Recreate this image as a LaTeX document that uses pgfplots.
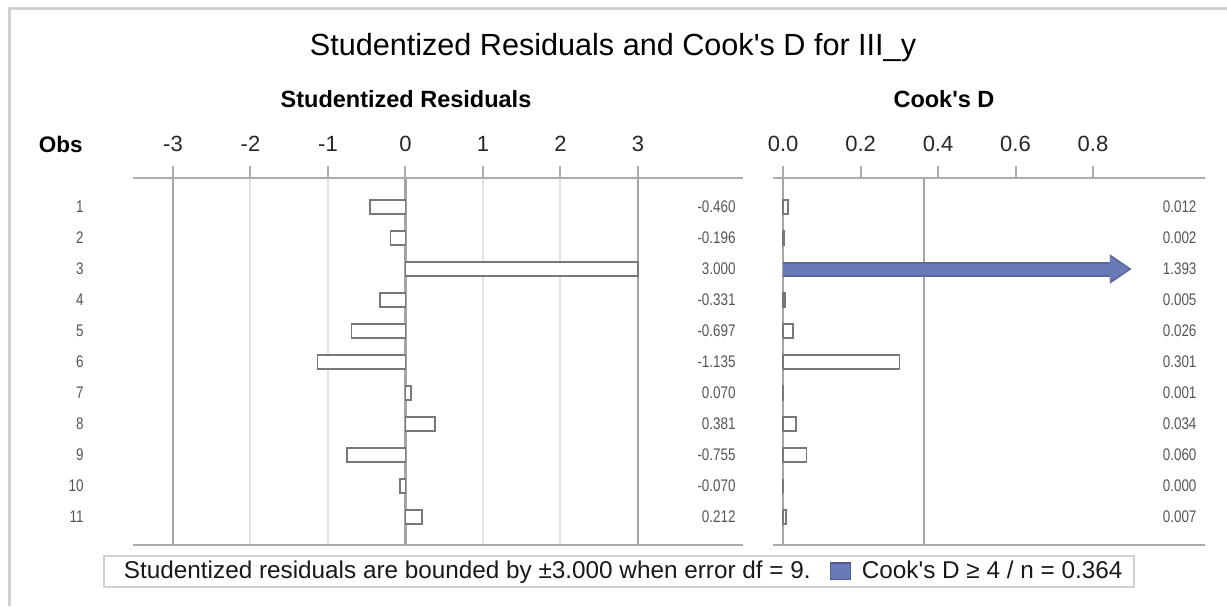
\documentclass[border=0pt]{standalone}
\usepackage{fontspec}
\setmainfont{Liberation Sans}[Ligatures=TeXOff]
\newfontfamily\narrowfont[FakeStretch=0.8]{Liberation Sans}
\usepackage{pgfplots}
\pgfplotsset{compat=1.18}
\usetikzlibrary{arrows.meta}
\definecolor{framegray}{RGB}{208,208,208}
\definecolor{axisgray}{RGB}{172,172,172}
\definecolor{gridgray}{RGB}{226,226,226}
\definecolor{refgray}{RGB}{165,165,165}
\definecolor{barline}{RGB}{120,120,120}
\definecolor{cookblue}{RGB}{106,122,184}
\definecolor{labgray}{RGB}{85,85,85}

\pgfplotsset{
  panel/.style={
    scale only axis, height=183.5pt, anchor=south west,
    y dir=reverse, ymin=0.065, ymax=11.9,
    axis line style={draw=none},
    xtick pos=right, xticklabel pos=right,
    tick align=outside, major tick length=6pt,
    xtick style={draw=axisgray, line width=1pt},
    xticklabel style={font=\fontsize{11}{13}\selectfont, text=black!85, anchor=base, yshift=7.5pt},
    ytick={1,...,11}, ytick style={draw=none}, ytick pos=left, yticklabel pos=left,
    clip=false,
  },
  vallab/.style={only marks, mark=none, forget plot, point meta=explicit symbolic, nodes near coords,
    every node near coord/.append style={anchor=east, inner sep=0pt, font=\narrowfont\fontsize{8.4}{10}\selectfont, text=labgray}},
  resbar/.style={xbar, bar width=0.45, fill=white, draw=barline, line width=0.8pt, forget plot},
}

\begin{document}
\begin{tikzpicture}
\useasboundingbox (0,0) rectangle (613.5pt,-303pt);
\draw[framegray, line width=1.5pt] (4.5pt,-303pt) -- (4.5pt,-4pt) -- (613.5pt,-4pt);
\node[anchor=base, font=\fontsize{15.3}{18}\selectfont] at (306.5pt,-27.5pt) {Studentized Residuals and Cook's D for III\_y};
\node[anchor=base, font=\bfseries\fontsize{11.75}{14}\selectfont] at (203pt,-53.5pt) {Studentized Residuals};
\node[anchor=base, font=\bfseries\fontsize{11.75}{14}\selectfont] at (472pt,-53.5pt) {Cook's D};
\node[anchor=base east, font=\bfseries\fontsize{11.25}{14}\selectfont, inner sep=0pt] at (41.5pt,-76pt) {Obs};

% ---------- Studentized residuals ----------
\begin{axis}[panel,
  at={(66.5pt,-272.5pt)}, width=305pt,
  xmin=-3.516, xmax=4.355,
  xtick={-3,-2,-1,0,1,2,3}, xticklabels={-3,-2,-1,0,1,2,3},
  xmajorgrids, grid style={gridgray, line width=1pt},
  extra x ticks={-3,0,3}, extra x tick labels={},
  extra x tick style={major tick length=0pt, grid=major, major grid style={refgray, line width=1.2pt}},
  yticklabels={1,2,3,4,5,6,7,8,9,10,11},
  yticklabel style={font=\narrowfont\fontsize{8.4}{10}\selectfont, text=labgray, anchor=east, xshift=-15.2pt},
]
\draw[axisgray, line width=1.2pt] (rel axis cs:0,0) -- (rel axis cs:1,0);
\draw[axisgray, line width=1.2pt] (rel axis cs:0,1) -- (rel axis cs:1,1);
\addplot[resbar] coordinates {
  (-0.460,1) (-0.196,2) (3.000,3) (-0.331,4) (-0.697,5) (-1.135,6)
  (0.070,7) (0.381,8) (-0.755,9) (-0.070,10) (0.212,11)};
\addplot[vallab] table[meta=lab] {
x y lab
4.265 1 -0.460
4.265 2 -0.196
4.265 3 3.000
4.265 4 -0.331
4.265 5 -0.697
4.265 6 -1.135
4.265 7 0.070
4.265 8 0.381
4.265 9 -0.755
4.265 10 -0.070
4.265 11 0.212
};
\end{axis}

% ---------- Cook's D ----------
\begin{axis}[panel,
  at={(386.5pt,-272.5pt)}, width=216pt,
  xmin=-0.026, xmax=1.089,
  xtick={0,0.2,0.4,0.6,0.8}, xticklabels={0.0,0.2,0.4,0.6,0.8},
  extra x ticks={0,0.364}, extra x tick labels={},
  extra x tick style={major tick length=0pt, grid=major, major grid style={refgray, line width=1.2pt}},
  yticklabels={},
  legend columns=2, legend cell align=left,
  legend style={at={(-1.551,-0.0272)}, anchor=north west, draw=framegray, line width=1pt,
    fill=white, font=\fontsize{12.15}{14}\selectfont, text=black!90,
    inner xsep=4pt, inner ysep=0.5pt,
    /tikz/every even column/.append style={column sep=7.5pt}},
]
\draw[axisgray, line width=1.2pt] (rel axis cs:0,0) -- (rel axis cs:1,0);
\draw[axisgray, line width=1.2pt] (rel axis cs:0,1) -- (rel axis cs:1,1);
\addlegendimage{empty legend}
\addlegendentry{\hspace{4pt}Studentized residuals are bounded by ±3.000 when error df = 9.}
\addplot[cookblue!85!black, line width=7.5pt, -{Triangle[length=11pt, width=14pt]}, forget plot]
  coordinates {(0,3) (0.9,3)};
\addplot[cookblue, line width=5.5pt, -{Triangle[length=9.6pt, width=11.6pt]},
  legend image code/.code={\draw[-, line width=0.6pt, fill=cookblue, draw=cookblue!75!black] (0pt,-4.2pt) rectangle (10pt,4.2pt);}]
  coordinates {(0,3) (0.893,3)};
\addlegendentry{\hspace{3.5pt}Cook's D ≥ 4 / n = 0.364}
\addplot[resbar] coordinates {
  (0.012,1) (0.002,2) (0.005,4) (0.026,5) (0.301,6)
  (0.001,7) (0.034,8) (0.060,9) (0.000,10) (0.007,11)};
\addplot[vallab] table[meta=lab] {
x y lab
1.068 1 0.012
1.068 2 0.002
1.068 3 1.393
1.068 4 0.005
1.068 5 0.026
1.068 6 0.301
1.068 7 0.001
1.068 8 0.034
1.068 9 0.060
1.068 10 0.000
1.068 11 0.007
};
\end{axis}
\end{tikzpicture}
\end{document}
